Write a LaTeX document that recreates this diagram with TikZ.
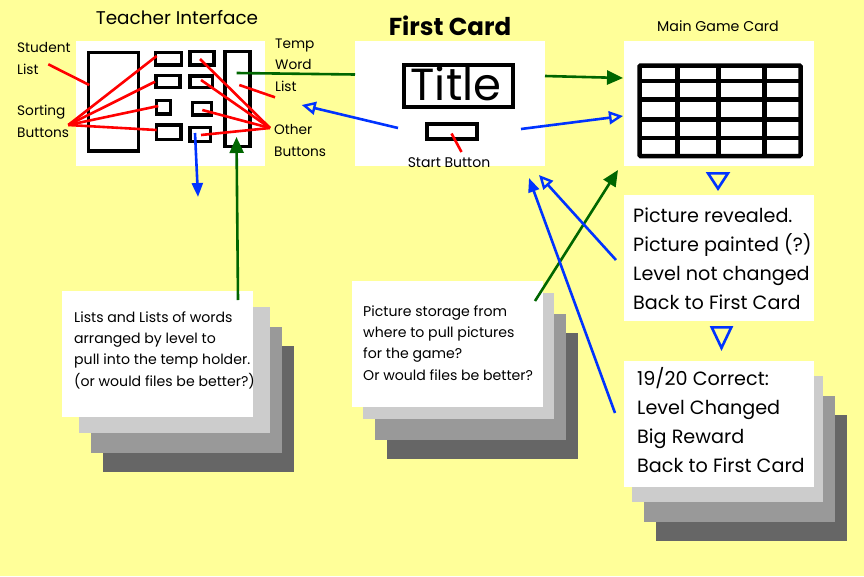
\documentclass[tikz,border=0pt]{standalone}
\usepackage{fontspec}
\setmainfont{Poppins}
\usetikzlibrary{arrows.meta}
\definecolor{bg}{HTML}{FFFF99}
\definecolor{myblue}{HTML}{0033FF}
\definecolor{mygreen}{HTML}{006600}
\definecolor{myred}{HTML}{FF0000}
\definecolor{gA}{HTML}{CCCCCC}
\definecolor{gB}{HTML}{999999}
\definecolor{gC}{HTML}{666666}
\tikzset{
  card/.style={fill=white, draw=none, inner sep=0pt, anchor=north west},
  sheetA/.style={fill=gA, draw=none, inner sep=0pt, anchor=north west},
  sheetB/.style={fill=gB, draw=none, inner sep=0pt, anchor=north west},
  sheetC/.style={fill=gC, draw=none, inner sep=0pt, anchor=north west},
  blk/.style={draw=black, line width=3.3pt, inner sep=0pt, anchor=north west},
  redline/.style={draw=myred, line width=2.6pt},
  blueopen/.style={draw=myblue, line width=2.6pt, -{Triangle[open, length=14pt, width=13pt, line width=2.4pt]}},
  bluefill/.style={draw=myblue, line width=2.6pt, -{Triangle[length=14pt, width=11pt]}},
  greenarr/.style={draw=mygreen, line width=2.6pt, -{Triangle[length=16pt, width=14pt]}},
  greenline/.style={draw=mygreen, line width=2.6pt},
  lbl/.style={inner sep=0pt, anchor=base west, align=left, font=\fontsize{13.7}{21.5}\selectfont},
  stacktxt/.style={inner sep=0pt, anchor=base west, align=left, font=\fontsize{14.1}{21.3}\selectfont},
  bigtxt/.style={inner sep=0pt, anchor=base west, align=left, font=\fontsize{19.2}{28.7}\selectfont},
}
\begin{document}
\begin{tikzpicture}[x=1pt, y=-1pt]
\useasboundingbox (0,0) rectangle (864,576);
\fill[bg] (0,0) rectangle (864,576);

% ---------- Teacher interface ----------
\node[inner sep=0pt, anchor=base, font=\fontsize{18.4}{20}\selectfont] (tTI) at (177,24) {Teacher Interface};
\node[card, minimum width=189pt, minimum height=125pt] (ti) at (76,41) {};
\node[blk, minimum width=50pt, minimum height=98.6pt] (slist) at (86.7,50.7) {};
\node[blk, minimum width=26.3pt, minimum height=12.6pt] (b11) at (153.7,50.7) {};
\node[blk, minimum width=24pt, minimum height=11.6pt] (b12) at (154.3,74) {};
\node[blk, minimum width=14pt, minimum height=13.3pt] (b13) at (155,99) {};
\node[blk, minimum width=24.3pt, minimum height=14.3pt] (b14) at (155,123.3) {};
\node[blk, minimum width=24pt, minimum height=13.3pt] (b21) at (188.3,50) {};
\node[blk, minimum width=22.4pt, minimum height=11.4pt] (b22) at (188.3,74.3) {};
\node[blk, minimum width=19pt, minimum height=12.6pt] (b23) at (191,100.7) {};
\node[blk, minimum width=20.7pt, minimum height=14.3pt] (b24) at (188.3,125.7) {};
\node[blk, minimum width=25pt, minimum height=95pt] (tlist) at (223.3,50) {};

\node[lbl] (lStudent) at (17,74) {Student\\List};
\node[lbl] (lSort) at (17,137) {Sorting\\Buttons};
\node[lbl] (lTemp) at (275,91) {Temp\\Word\\List};
\node[lbl] (lOther) at (274,156) {Other\\Buttons};

\coordinate (pStudent) at (48.3,64.3);
\coordinate (pSort) at (68.3,125);
\coordinate (pTemp) at (275,97.3);
\coordinate (pOther) at (270,128);

\draw[redline] (pStudent) -- (89.3,85);
\draw[redline] (pSort) -- (156.7,56);
\draw[redline] (pSort) -- (155,81.7);
\draw[redline] (pSort) -- (158.3,106);
\draw[redline] (pSort) -- (156.7,130);
\draw[redline] (pTemp) -- (239.3,85);
\draw[redline] (pOther) -- (200,59);
\draw[redline] (pOther) -- (201,80);
\draw[redline] (pOther) -- (202.3,110);
\draw[redline] (pOther) -- (201,135);

% ---------- First card ----------
\node[inner sep=0pt, anchor=base, font=\fontsize{24.5}{28}\selectfont\bfseries] (tFC) at (450,35) {First Card};
\node[card, minimum width=190pt, minimum height=125pt] (fc) at (355,41) {};
\node[draw=black, line width=4pt, minimum width=109pt, minimum height=42.6pt, inner sep=0pt, anchor=north west] (titlebox) at (402.3,62.7) {};
\node[inner sep=0pt, anchor=base, font=\fontsize{45}{48}\selectfont] (titletxt) at (456,100) {Title};
\node[draw=black, line width=4pt, minimum width=49.4pt, minimum height=15pt, inner sep=0pt, anchor=north west] (startbtn) at (425.3,122) {};
\node[inner sep=0pt, anchor=base, font=\fontsize{14}{16}\selectfont] (tStart) at (449,167) {Start Button};
\draw[redline] (451.5,133.5) -- (461.5,152);

% ---------- Main game card ----------
\node[inner sep=0pt, anchor=base, font=\fontsize{14.2}{17}\selectfont] (tMG) at (718,31) {Main Game Card};
\node[card, minimum width=190pt, minimum height=125pt] (mg) at (624,41) {};
\draw[line width=4.5pt, rounded corners=1pt] (639.5,65.5) rectangle (800.5,156);
\foreach \xx in {677.5,718.3,764.3} \draw[line width=4.5pt] (\xx,65.5) -- (\xx,156);
\foreach \yy in {81.2,99.5,119.5,138} \draw[line width=4.5pt] (639.5,\yy) -- (800.5,\yy);

% ---------- Picture revealed ----------
\node[card, minimum width=190pt, minimum height=126pt] (pr) at (624,195) {};
\node[bigtxt] (prtxt) at (633,309) {Picture revealed.\\Picture painted (?)\\Level not changed\\Back to First Card};

% ---------- 19/20 stack ----------
\node[sheetC, minimum width=191pt, minimum height=126pt] (c4) at (656,415) {};
\node[sheetB, minimum width=191pt, minimum height=126pt] (c3) at (644,396) {};
\node[sheetA, minimum width=191pt, minimum height=126pt] (c2) at (632,376) {};
\node[card, minimum width=190pt, minimum height=126pt] (cr) at (624,361) {};
\node[bigtxt] (crtxt) at (637,472) {19/20 Correct:\\Level Changed\\Big Reward\\Back to First Card};

% ---------- Lists stack ----------
\node[sheetC, minimum width=191pt, minimum height=126pt] (l4) at (103,346) {};
\node[sheetB, minimum width=191pt, minimum height=126pt] (l3) at (91,327) {};
\node[sheetA, minimum width=191pt, minimum height=126pt] (l2) at (79,307) {};
\node[card, minimum width=191pt, minimum height=126pt] (ls) at (62,291) {};
\node[stacktxt] (lstxt) at (74,386) {Lists and Lists of words\\arranged by level to\\pull into the temp holder.\\(or would files be better?)};

% ---------- Picture storage stack ----------
\node[sheetC, minimum width=191pt, minimum height=126pt] (p4) at (387,333) {};
\node[sheetB, minimum width=191pt, minimum height=126pt] (p3) at (375,314) {};
\node[sheetA, minimum width=191pt, minimum height=126pt] (p2) at (363,293) {};
\node[card, minimum width=191pt, minimum height=126pt] (ps) at (352,281) {};
\node[stacktxt] (pstxt) at (363,380) {Picture storage from\\where to pull pictures\\for the game?\\Or would files be better?};

% ---------- Connector end points ----------
\coordinate (gTempStart) at (236.7,73);
\coordinate (gFcWest) at (355,74.5);
\coordinate (gFcEast) at (545,76);
\coordinate (gMgWest) at (623,78);
\coordinate (bFcEast) at (521,129);
\coordinate (bMgWest) at (623,116);
\coordinate (bFcIn) at (398,128);
\coordinate (bTiTip) at (301.7,105);
\coordinate (bDownStart) at (195,133);
\coordinate (bDownEnd) at (198,197);
\coordinate (gListStart) at (238,300);
\coordinate (gListTip) at (236.5,137);
\coordinate (gPicStart) at (535,301);
\coordinate (gPicTip) at (618,170);
\coordinate (bPrStart) at (616,260);
\coordinate (bPrTip) at (539,175);
\coordinate (bCrStart) at (615,413);
\coordinate (bCrTip) at (529,178);
\coordinate (t1a) at (718,172);
\coordinate (t1b) at (718,191);
\coordinate (t2a) at (721.5,326);
\coordinate (t2b) at (721.5,351);

% ---------- Connectors ----------
\draw[greenline] (gTempStart) -- (gFcWest);
\draw[greenarr] (gFcEast) -- (gMgWest);
\draw[blueopen] (bFcEast) -- (bMgWest);
\draw[blueopen] (bFcIn) -- (bTiTip);
\draw[bluefill] (bDownStart) -- (bDownEnd);
\draw[greenarr] (gListStart) -- (gListTip);
\draw[greenarr] (gPicStart) -- (gPicTip);
\draw[blueopen] (bPrStart) -- (bPrTip);
\draw[bluefill] (bCrStart) -- (bCrTip);
\draw[draw=myblue, line width=2.6pt, -{Triangle[open, length=19pt, width=24pt, line width=2.6pt]}] (t1a) -- (t1b);
\draw[draw=myblue, line width=2.6pt, -{Triangle[open, length=25pt, width=23pt, line width=2.6pt]}] (t2a) -- (t2b);
\end{tikzpicture}
\end{document}
